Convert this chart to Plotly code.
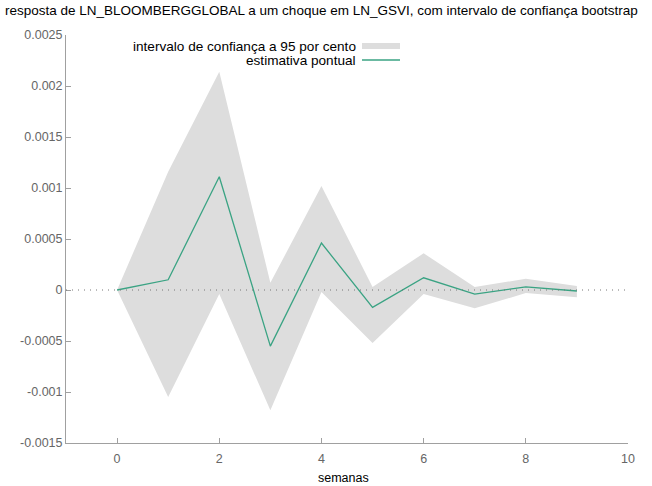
import plotly.graph_objects as go

weeks = [0, 1, 2, 3, 4, 5, 6, 7, 8, 9]
point = [0.0, 0.0001, 0.00111, -0.00055, 0.00046, -0.00017, 0.00012, -0.00004, 0.00003, -0.00001]
upper = [0.0, 0.00116, 0.00214, 0.00007, 0.00102, 0.00003, 0.00036, 0.00003, 0.00011, 0.00004]
lower = [0.0, -0.00105, -0.00004, -0.00118, -0.00002, -0.00052, -0.00004, -0.00018, -0.00003, -0.00007]

ytick_vals = [0.0025, 0.002, 0.0015, 0.001, 0.0005, 0, -0.0005, -0.001, -0.0015]
ytick_text = ["0.0025", "0.002", "0.0015", "0.001", "0.0005", "0", "-0.0005", "-0.001", "-0.0015"]
xtick_vals = [0, 2, 4, 6, 8, 10]

title = "resposta de LN_BLOOMBERGGLOBAL a um choque em LN_GSVI, com intervalo de confiança bootstrap"
band_label = "intervalo de confiança a 95 por cento"
line_label = "estimativa pontual"

BAND = "#dddddd"
GREEN = "#3aa383"
AXIS = "#a0a0a0"
TICKF = "#666666"

L, R, T, B = 66, 24, 35, 43
PW = 652 - L - R
PH = 486 - T - B

fig = go.Figure()
fig.add_trace(go.Scatter(
    x=weeks + weeks[::-1], y=upper + lower[::-1],
    fill="toself", fillcolor=BAND, line=dict(width=0, color=BAND),
    mode="lines", hoverinfo="skip", showlegend=False))
fig.add_hline(y=0, line=dict(color="#777777", width=1, dash="1px,5px"), layer="above")
fig.add_trace(go.Scatter(
    x=weeks, y=point, mode="lines",
    line=dict(color=GREEN, width=1.3), showlegend=False))

fig.update_layout(
    width=652, height=486,
    margin=dict(l=L, r=R, t=T, b=B),
    plot_bgcolor="white", paper_bgcolor="white",
    font=dict(family="Liberation Sans, Arial, sans-serif", size=12, color="black"),
    showlegend=False,
)
fig.update_xaxes(
    range=[-1, 10], tickvals=xtick_vals, ticks="inside", ticklen=5,
    tickcolor=AXIS, showline=True, linecolor=AXIS, linewidth=1,
    showgrid=False, zeroline=False, tickfont=dict(color=TICKF, size=12.5),
    ticklabelstandoff=4, automargin=False,
)
fig.update_yaxes(
    range=[-0.0015, 0.0025], tickvals=ytick_vals, ticktext=ytick_text,
    ticks="inside", ticklen=5, tickcolor=AXIS, showline=True, linecolor=AXIS,
    linewidth=1, showgrid=False, zeroline=False, automargin=False,
    tickfont=dict(color=TICKF, size=12.5),
)

# x-axis title
fig.add_annotation(text="semanas", xref="paper", yref="paper", x=0.5 + (343 - (L + PW / 2)) / PW,
                   y=-(478 - (T + PH)) / PH, xanchor="center", yanchor="middle",
                   showarrow=False, font=dict(size=12.5, color="black"))

# Title
fig.add_annotation(text=title, xref="paper", yref="paper", x=-(L - 3) / PW, y=1 + 25 / PH,
                   xanchor="left", yanchor="middle", showarrow=False,
                   font=dict(size=13.5, color="black"))

# Manual legend (gnuplot style: text right-aligned, sample on the right)
lx_text = (358 - L) / PW
sx0 = (362 - L) / PW
sx1 = (400 - L) / PW
y1 = 1 - (46 - T) / PH
y2 = 1 - (60 - T) / PH
fig.add_annotation(text=band_label, xref="paper", yref="paper", x=lx_text, y=y1,
                   xanchor="right", yanchor="middle", showarrow=False,
                   font=dict(size=13.6, color="black"))
fig.add_annotation(text=line_label, xref="paper", yref="paper", x=lx_text, y=y2,
                   xanchor="right", yanchor="middle", showarrow=False,
                   font=dict(size=13.6, color="black"))
fig.add_shape(type="rect", xref="paper", yref="paper", x0=sx0, x1=sx1,
              y0=y1 - 3 / PH, y1=y1 + 3 / PH, fillcolor=BAND, line=dict(width=0))
fig.add_shape(type="line", xref="paper", yref="paper", x0=sx0, x1=sx1,
              y0=y2, y1=y2, line=dict(color=GREEN, width=1.3))

fig.write_html("out.html")
